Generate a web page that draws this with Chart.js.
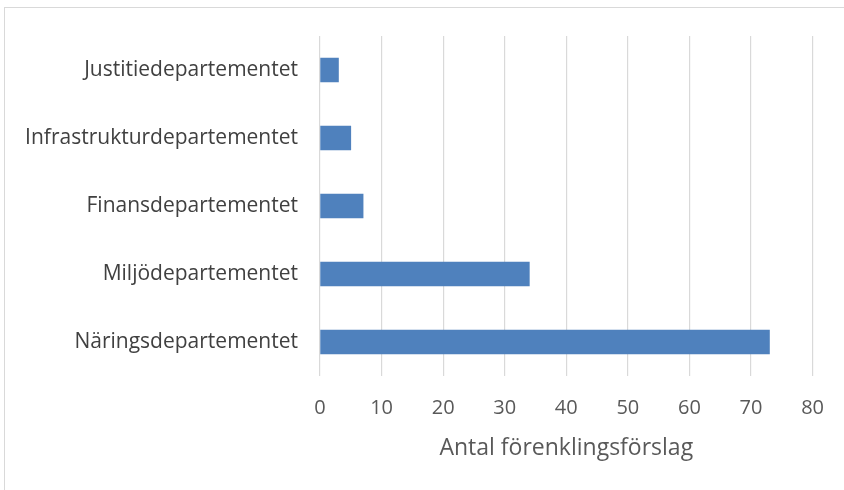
<!DOCTYPE html>
<html lang="sv">
<head>
<meta charset="UTF-8">
<title>Antal förenklingsförslag</title>
<script src="https://cdn.jsdelivr.net/npm/chart.js@4/dist/chart.umd.min.js"></script>
<style>
    html, body { margin: 0; padding: 0; background: #fff; }
    .wrap { position: relative; width: 844px; height: 490px; }
    .frame { position: absolute; left: 4px; top: 7px; right: 0; bottom: 0;
             border-top: 1px solid #d9d9d9; border-left: 1px solid #d9d9d9; }
    canvas { position: absolute; left: 0; top: 0; }
</style>
</head>
<body>
<div class="wrap">
    <div class="frame"></div>
    <canvas id="c" width="844" height="490"></canvas>
</div>
<script>
const departments = ['Justitiedepartementet', 'Infrastrukturdepartementet', 'Finansdepartementet', 'Miljödepartementet', 'Näringsdepartementet'];
const proposals = [3, 5, 7, 34, 73];
const xTicks = [0, 10, 20, 30, 40, 50, 60, 70, 80];

const fontFamily = '"Open Sans", Lato, sans-serif';
const textColor = '#595959';

new Chart(document.getElementById('c'), {
    type: 'bar',
    data: {
        labels: departments,
        datasets: [{
            data: proposals,
            backgroundColor: '#4f81bd',
            barThickness: 24
        }]
    },
    options: {
        indexAxis: 'y',
        responsive: false,
        animation: false,
        layout: { padding: { top: 36, right: 28, bottom: 0, left: 0 } },
        plugins: {
            legend: { display: false },
            tooltip: { enabled: false }
        },
        scales: {
            x: {
                min: 0,
                max: 80,
                afterBuildTicks: scale => { scale.ticks = xTicks.map(v => ({ value: v })); },
                afterFit: scale => { scale.height = 114; },
                border: { display: false },
                grid: { color: '#d9d9d9', lineWidth: 1.2, drawTicks: false },
                ticks: { color: textColor, font: { family: fontFamily, size: 20 }, padding: 20 },
                title: {
                    display: true,
                    text: 'Antal förenklingsförslag',
                    color: textColor,
                    font: { family: fontFamily, size: 23 },
                    padding: { top: 4, bottom: 28 }
                }
            },
            y: {
                afterFit: scale => { scale.width = 320; },
                border: { display: false },
                grid: { display: false, drawTicks: false },
                ticks: { color: '#404040', font: { family: fontFamily, size: 21 }, padding: 22 }
            }
        }
    }
});
</script>
</body>
</html>
